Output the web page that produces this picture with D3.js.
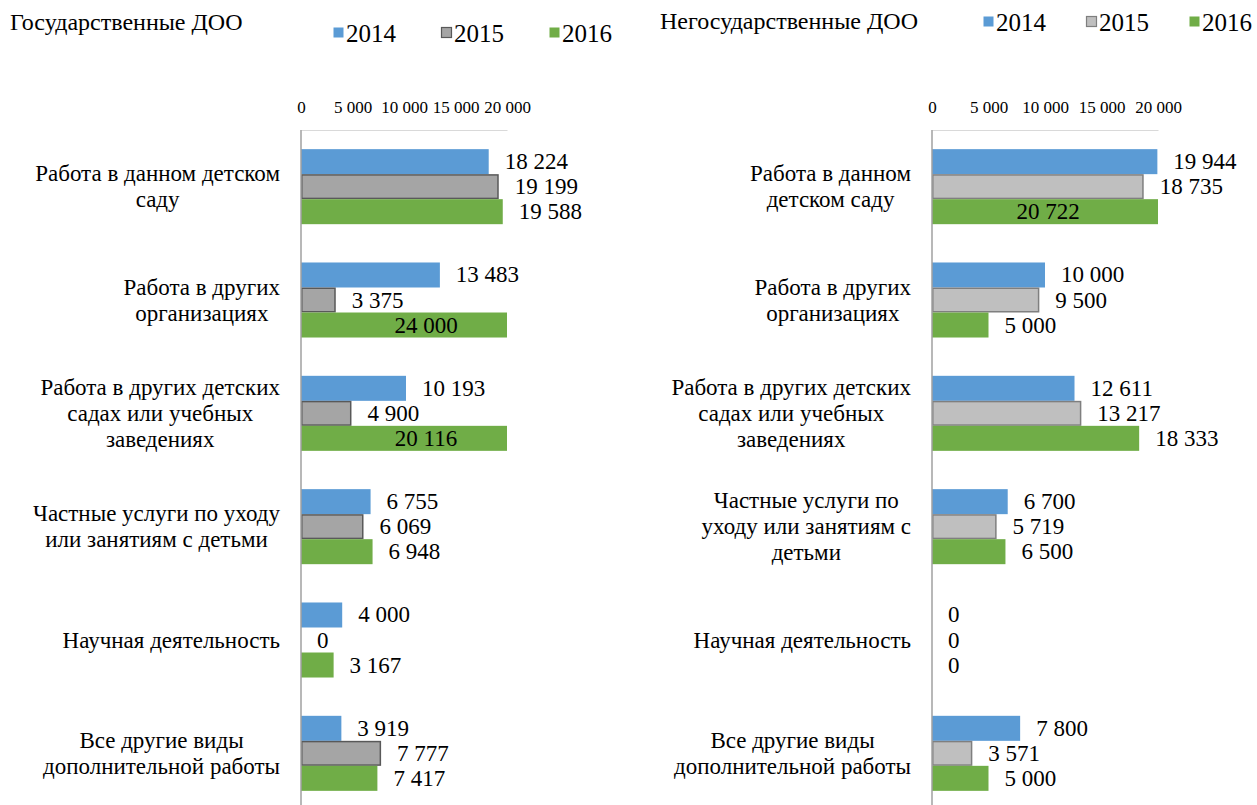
<!DOCTYPE html>
<html lang="ru">
<head>
    <meta charset="UTF-8">
    <title>Дополнительная работа педагогов ДОО</title>
    <style>
        body { margin: 0; background: #fff; }
        svg { display: block; }
        svg text { font-family: "Liberation Serif", Tinos, "Times New Roman", "DejaVu Serif", serif; }
    </style>
    <script type="text/javascript" src="https://d3js.org/d3.v7.min.js"></script>
</head>
<body>
    <script type="text/javascript">

       var years = ["2014", "2015", "2016"];

       // category labels, already split into lines as in the picture
       var categoriesGov = [
           ["Работа в данном детском", "саду"],
           ["Работа в других", "организациях"],
           ["Работа в других детских", "садах или учебных", "заведениях"],
           ["Частные услуги по уходу", "или занятиям с детьми"],
           ["Научная деятельность"],
           ["Все другие виды", "дополнительной работы"]
       ];
       var categoriesPriv = [
           ["Работа в данном", "детском саду"],
           ["Работа в других", "организациях"],
           ["Работа в других детских", "садах или учебных", "заведениях"],
           ["Частные услуги по", "уходу или занятиям с", "детьми"],
           ["Научная деятельность"],
           ["Все другие виды", "дополнительной работы"]
       ];

       var gov2014 = [18224, 13483, 10193, 6755, 4000, 3919];
       var gov2015 = [19199, 3375, 4900, 6069, 0, 7777];
       var gov2016 = [19588, 24000, 20116, 6948, 3167, 7417];

       var priv2014 = [19944, 10000, 12611, 6700, 0, 7800];
       var priv2015 = [18735, 9500, 13217, 5719, 0, 3571];
       var priv2016 = [20722, 5000, 18333, 6500, 0, 5000];

       var xTicks = [0, 5000, 10000, 15000, 20000];
       var xMax = 20000;

       var ru = d3.formatLocale({decimal: ",", thousands: " ", grouping: [3], currency: ["", ""]});
       var fmt = ru.format(",d");

       var width = 1257, height = 805;
       var svg = d3.select("body")
                   .append("svg")
                   .attr("width", width)
                   .attr("height", height);

       var blue = "#5b9bd5", green = "#70ad47";

       function drawPanel(opt) {
           var g = svg.append("g");

           // title
           g.append("text")
            .attr("x", opt.titleX)
            .attr("y", opt.titleY)
            .attr("dominant-baseline", "central")
            .style("font-size", "24px")
            .text(opt.title);

           // legend
           var lx = opt.legendX;
           years.forEach(function(y, i) {
               var it = g.append("g").attr("transform", "translate(" + lx + "," + opt.legendY + ")");
               it.append("rect")
                 .attr("x", 0.5).attr("y", -5.5)
                 .attr("width", 10).attr("height", 10)
                 .attr("fill", opt.colors[i])
                 .attr("stroke", i == 1 ? opt.grayStroke : "none")
                 .attr("stroke-width", i == 1 ? 1.2 : 0);
               var t = it.append("text")
                 .attr("x", 13)
                 .attr("y", 0)
                 .attr("dominant-baseline", "central")
                 .style("font-size", "25px")
                 .text(y);
               lx += 13 + t.node().getComputedTextLength() + opt.legendGap;
           });

           var xScale = d3.scaleLinear()
                          .domain([0, xMax])
                          .range([opt.x0, opt.x1])
                          .clamp(true);

           var yScale = d3.scaleBand()
                          .domain(d3.range(opt.categories.length))
                          .range([130, 810])
                          .paddingInner(0.338)
                          .paddingOuter(0.169);

           var ySub = d3.scaleBand()
                        .domain(years)
                        .range([0, yScale.bandwidth()]);

           // top axis
           var xAxis = d3.axisTop(xScale)
                         .tickValues(xTicks)
                         .tickSize(0)
                         .tickPadding(17)
                         .tickFormat(fmt);
           var ax = g.append("g")
                     .attr("transform", "translate(0,130)")
                     .call(xAxis);
           ax.attr("font-family", null);
           ax.select(".domain").attr("stroke", "#d9d9d9").attr("stroke-width", 1.2);
           ax.selectAll("text")
             .style("font-size", "17px")
             .attr("fill", "#000");

           // bars
           var series = [opt.v2014, opt.v2015, opt.v2016];
           series.forEach(function(vals, si) {
               var year = years[si];
               var pts = vals.map(function(v, i) { return {v: v, i: i}; });
               var inset = si == 1 ? 0.75 : 0;
               var grp = g.append("g").attr("class", "series");
               grp.selectAll("rect")
                  .data(pts.filter(function(d) { return d.v > 0; }))
                  .enter()
                  .append("rect")
                  .attr("x", xScale(0) + inset)
                  .attr("y", function(d) { return yScale(d.i) + ySub(year) + inset; })
                  .attr("width", function(d) { return xScale(d.v) - xScale(0) - 2 * inset; })
                  .attr("height", ySub.bandwidth() - 2 * inset)
                  .attr("fill", opt.colors[si])
                  .attr("stroke", si == 1 ? opt.grayStroke : "none")
                  .attr("stroke-width", si == 1 ? 1.5 : 0);

               grp.selectAll("text")
                  .data(pts)
                  .enter()
                  .append("text")
                  .attr("x", function(d) {
                      if (d.v > xMax) return (xScale(0) + xScale(d.v)) / 2 + opt.insideShift;
                      return xScale(d.v) + 16;
                  })
                  .attr("y", function(d) { return yScale(d.i) + ySub(year) + ySub.bandwidth() / 2; })
                  .attr("text-anchor", function(d) { return d.v > xMax ? "middle" : "start"; })
                  .attr("dominant-baseline", "central")
                  .style("font-size", "23px")
                  .text(function(d) { return fmt(d.v); });
           });

           // vertical category axis line
           g.append("line")
            .attr("x1", xScale(0)).attr("x2", xScale(0))
            .attr("y1", 130).attr("y2", height)
            .attr("stroke", "#a0a0a0")
            .attr("stroke-width", 1.5);

           // category labels: block right-aligned, lines centred inside it
           var lineH = 26;
           opt.categories.forEach(function(lines, i) {
               var cy = yScale(i) + yScale.bandwidth() / 2;
               var tg = g.append("g");
               var texts = lines.map(function(l, k) {
                   return tg.append("text")
                            .attr("y", cy + (k - (lines.length - 1) / 2) * lineH)
                            .attr("dominant-baseline", "central")
                            .attr("text-anchor", "middle")
                            .style("font-size", "23px")
                            .text(l);
               });
               var w = d3.max(texts, function(t) { return t.node().getComputedTextLength(); });
               texts.forEach(function(t) { t.attr("x", opt.labelRight - w / 2); });
           });
       }

       drawPanel({
           title: "Государственные ДОО",
           titleX: 10, titleY: 22,
           legendX: 333, legendY: 33, legendGap: 45,
           colors: [blue, "#a5a5a5", green],
           grayStroke: "#595959",
           x0: 301, x1: 507,
           insideShift: 22,
           labelRight: 280,
           categories: categoriesGov,
           v2014: gov2014, v2015: gov2015, v2016: gov2016
       });

       drawPanel({
           title: "Негосударственные ДОО",
           titleX: 660, titleY: 21,
           legendX: 983, legendY: 22, legendGap: 40,
           colors: [blue, "#bfbfbf", green],
           grayStroke: "#7f7f7f",
           x0: 932, x1: 1158,
           insideShift: 3,
           labelRight: 911,
           categories: categoriesPriv,
           v2014: priv2014, v2015: priv2015, v2016: priv2016
       });

    </script>
</body>
</html>
